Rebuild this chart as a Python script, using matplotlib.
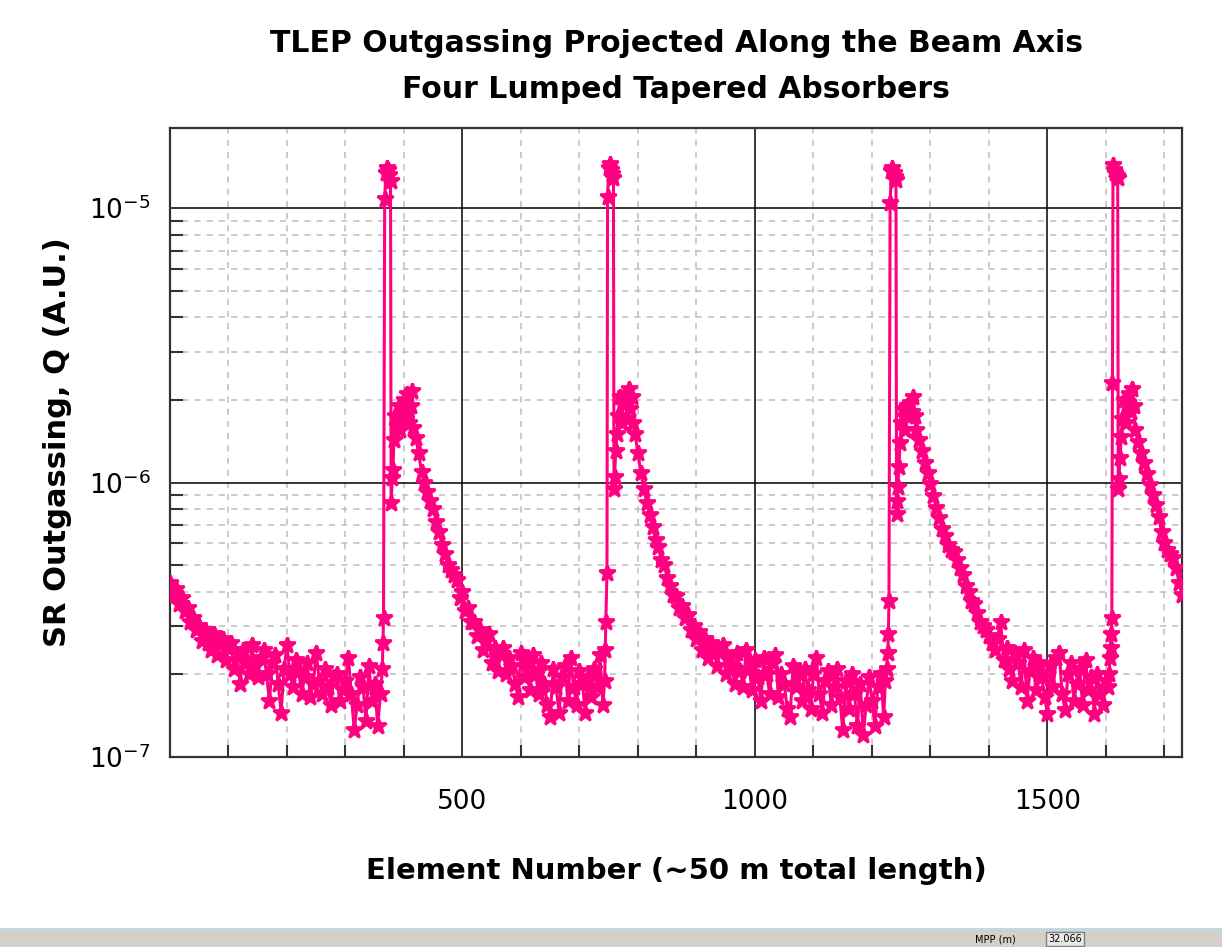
import numpy as np
import matplotlib
matplotlib.use("Agg")
import matplotlib.pyplot as plt
from matplotlib.ticker import FixedLocator, LogLocator, NullFormatter, FixedFormatter
from matplotlib.patches import Rectangle

PINK = '#ff0080'
STEP = 5

# Outgassing Q in units of 1e-7 (A.U.).
# Smooth/noisy stretches are sampled every STEP elements from a start element.
seg_a_start = 0
seg_a_q = [4.3, 3.9, 4.1, 3.6, 3.8, 3.4, 3.5, 3.1, 3.2, 2.9,
           3.0, 2.65, 2.9, 2.6, 2.45, 2.8, 2.35, 2.55, 2.7, 2.25,
           2.5, 2.6, 2.1, 2.35, 1.85, 2.45, 2.2, 2.0, 2.55, 2.15,
           1.95, 2.3, 2.45, 2.0, 1.6, 2.2, 2.35, 1.85, 1.45, 2.1,
           2.55, 2.0, 1.8, 2.25, 2.05, 1.7, 1.95, 2.2, 1.65, 1.85,
           2.4, 1.9, 1.7, 2.1, 1.8, 1.55, 1.95, 2.0, 1.6, 1.75,
           1.9, 2.3, 1.7, 1.25, 1.55, 1.95, 1.8, 1.35, 2.15, 1.6,
           1.85, 1.3, 1.7]

spike1_x = [363, 364, 365, 367, 369, 371, 373, 375, 377, 378, 380, 381, 383,
            385, 388, 391, 394, 397, 400, 403, 406, 409, 412, 414, 416]
spike1_q = [2.1, 2.6, 3.2, 108, 134, 140, 137, 132, 125, 8.4, 10.4, 11.1, 14.3,
            17.4, 16, 19, 15.5, 18, 20, 17, 21, 16.5, 19, 21.5, 15.8]

decay1_start = 420
decay1_q = [14.5, 12.8, 10.9, 10.0, 9.2, 8.6, 8.0, 7.2, 6.6, 5.9,
            5.5, 5.0, 4.8, 4.6, 4.4, 3.8, 4.0, 3.4, 3.5, 3.1,
            3.1, 2.75, 2.9, 2.45, 2.65, 2.8, 2.2, 2.5, 2.05, 2.35,
            2.5, 2.0, 2.3, 2.15, 1.85, 1.65, 2.4, 1.95, 2.2, 1.75,
            2.35, 2.0, 1.7, 2.2, 1.85, 1.55, 1.4, 2.1, 1.8, 1.45,
            1.95, 2.15, 1.6, 2.3, 1.8, 1.55, 2.05, 1.85, 1.45, 1.95,
            1.65, 2.1, 1.8, 2.35, 1.55]

spike2_x = [743, 744, 745, 747, 748, 750, 752, 754, 756, 758, 759, 760,
            762, 764, 766, 769, 772, 775, 778, 781, 784, 787, 790, 792]
spike2_q = [1.9, 2.45, 3.1, 4.7, 110, 140, 145, 138, 133, 129, 9.5, 10.5,
            13.0, 15.0, 17.5, 20.5, 16.5, 19.5, 21, 17, 22, 18.5, 20.5, 16.5]

decay2_start = 795
decay2_q = [15.0, 12.8, 10.8, 9.5, 8.4, 7.6, 6.9, 6.2, 5.8, 5.2,
            5.0, 4.5, 4.2, 3.9, 3.85, 3.5, 3.55, 3.2, 3.3, 2.9,
            3.0, 2.7, 2.85, 2.45, 2.7, 2.3, 2.6, 2.45, 2.15, 2.4,
            2.55, 2.0, 2.3, 2.15, 1.85, 2.4, 2.05, 1.8, 2.45, 2.1,
            1.75, 2.25, 1.95, 1.6, 2.3, 2.0, 1.7, 2.2, 2.35, 1.65,
            2.0, 1.85, 1.5, 1.4, 2.15, 1.8, 2.0, 1.6, 2.1, 1.75,
            1.5, 2.0, 2.3, 1.7, 1.45, 1.9, 2.05, 1.55, 1.8, 2.1,
            1.65, 1.25, 1.9, 1.5, 2.0, 1.7, 1.3, 1.85, 1.2, 1.55,
            1.95, 1.6, 1.3, 1.8, 2.0, 1.4]

spike3_x = [1223, 1225, 1227, 1228, 1229, 1231, 1233, 1235, 1237, 1239, 1241, 1242, 1243,
            1244, 1246, 1248, 1250, 1253, 1256, 1259, 1262, 1265, 1268, 1270, 1273, 1275]
spike3_q = [1.9, 2.1, 2.4, 2.8, 3.7, 104, 136, 140, 134, 130, 127, 7.7, 8.6,
            9.6, 11.4, 13.9, 16.5, 18.5, 15.5, 19, 17.5, 19.5, 18, 20.5, 17.5, 15.5]

decay3_start = 1280
decay3_q = [14.3, 13.0, 11.8, 10.8, 9.9, 8.9, 8.1, 7.4, 6.8, 6.4,
            5.9, 5.7, 5.6, 5.2, 4.9, 4.6, 4.2, 4.0, 3.7, 3.6,
            3.35, 3.1, 3.0, 2.9, 2.75, 2.6, 2.45, 2.7, 3.1, 2.25,
            2.5, 2.1, 1.9, 2.4, 2.2, 1.8, 2.45, 1.6, 2.05, 2.3,
            1.75, 2.2, 1.95, 1.65, 1.44, 2.15, 1.8, 2.3, 2.4, 1.7,
            1.48, 2.0, 2.2, 1.6, 1.85, 2.1, 1.55, 2.25, 1.75, 1.95,
            1.44, 2.0, 1.7, 1.55, 1.9]

spike4_x = [1603, 1605, 1607, 1608, 1609, 1610, 1611, 1612, 1614, 1616, 1618, 1620, 1621,
            1622, 1624, 1626, 1628, 1631, 1634, 1637, 1640, 1643, 1645, 1648, 1650]
spike4_q = [1.8, 2.0, 2.3, 2.5, 2.8, 3.2, 23, 143, 138, 134, 131, 129, 9.5,
            10.3, 12.3, 14.6, 17, 20, 16.5, 19.5, 21, 18, 22, 19, 15.5]

decay4_start = 1655
decay4_q = [14.0, 12.8, 11.8, 10.7, 9.8, 9.0, 8.3, 7.5, 6.6, 6.0,
            5.7, 5.5, 5.3, 4.9, 4.3, 3.9]

x_ticks = [500, 1000, 1500]
y_ticks = [1e-7, 1e-6, 1e-5]
y_tick_labels = [r'$10^{-7}$', r'$10^{-6}$', r'$10^{-5}$']


def sampled(start, q):
    return start + STEP * np.arange(len(q)), np.array(q, dtype=float)


pieces = [sampled(seg_a_start, seg_a_q),
          (np.array(spike1_x), np.array(spike1_q, dtype=float)),
          sampled(decay1_start, decay1_q),
          (np.array(spike2_x), np.array(spike2_q, dtype=float)),
          sampled(decay2_start, decay2_q),
          (np.array(spike3_x), np.array(spike3_q, dtype=float)),
          sampled(decay3_start, decay3_q),
          (np.array(spike4_x), np.array(spike4_q, dtype=float)),
          sampled(decay4_start, decay4_q)]
element = np.concatenate([p[0] for p in pieces])
q = np.concatenate([p[1] for p in pieces]) * 1e-7

plt.rcParams['mathtext.default'] = 'regular'
fig = plt.figure(figsize=(12.22, 9.47), dpi=100)
ax = fig.add_axes([0.1391, 0.2006, 0.8282, 0.6642])

ax.plot(element, q, color=PINK, lw=2.2, marker='*', ms=12, mew=2.0, mec=PINK, mfc=PINK,
        zorder=3, clip_on=True)

ax.set_yscale('log')
ax.set_xlim(0, 1730)
ax.set_ylim(1e-7, 1.956e-5)

# grids: solid black at majors, dashed grey at minors
ax.xaxis.set_major_locator(FixedLocator(x_ticks))
ax.xaxis.set_minor_locator(FixedLocator([v for v in range(100, 1800, 100) if v % 500]))
ax.yaxis.set_major_locator(FixedLocator(y_ticks))
ax.yaxis.set_major_formatter(FixedFormatter(y_tick_labels))
ax.yaxis.set_minor_locator(LogLocator(base=10, subs=np.arange(2, 10)))
ax.yaxis.set_minor_formatter(NullFormatter())
ax.grid(which='major', color='black', lw=1.1, ls='-', zorder=1)
ax.grid(which='minor', color='#bdbdbd', lw=1.1, ls=(0, (4, 4)), zorder=1)

ax.tick_params(which='both', direction='in', top=False, right=False, width=1.5, color='#333333')
ax.tick_params(which='major', length=0, labelsize=19)
ax.tick_params(which='minor', length=9)
ax.tick_params(axis='x', which='major', pad=23)
ax.tick_params(axis='y', which='major', pad=14)
for s in ax.spines.values():
    s.set_linewidth(1.6)
    s.set_color('#333333')

ax.set_xlabel('Element Number (~50 m total length)', fontsize=21, fontweight='bold', labelpad=30)
ax.set_ylabel('SR Outgassing, Q (A.U.)', fontsize=22, fontweight='bold', labelpad=12)

fig.text(676 / 1222, 1 - 43 / 947, 'TLEP Outgassing Projected Along the Beam Axis',
         ha='center', va='center', fontsize=21.5, fontweight='bold')
fig.text(676 / 1222, 1 - 90 / 947, 'Four Lumped Tapered Absorbers',
         ha='center', va='center', fontsize=21.5, fontweight='bold')

# window status bar strip at the bottom of the screenshot
fig.patches.append(Rectangle((0, 0), 1, 17 / 947, transform=fig.transFigure,
                             facecolor='#d4d0c8', edgecolor='none'))
fig.patches.append(Rectangle((0, 17 / 947), 1, 2 / 947, transform=fig.transFigure,
                             facecolor='#b8dde8', edgecolor='none'))
fig.text(975 / 1222, 8 / 947, 'MPP (m)', fontsize=7, va='center')
fig.text(1048 / 1222, 8 / 947, '32.066', fontsize=7, va='center',
         bbox=dict(facecolor='#e8e8e8', edgecolor='#808080', pad=1.5))

fig.savefig('out.png', dpi=100)
